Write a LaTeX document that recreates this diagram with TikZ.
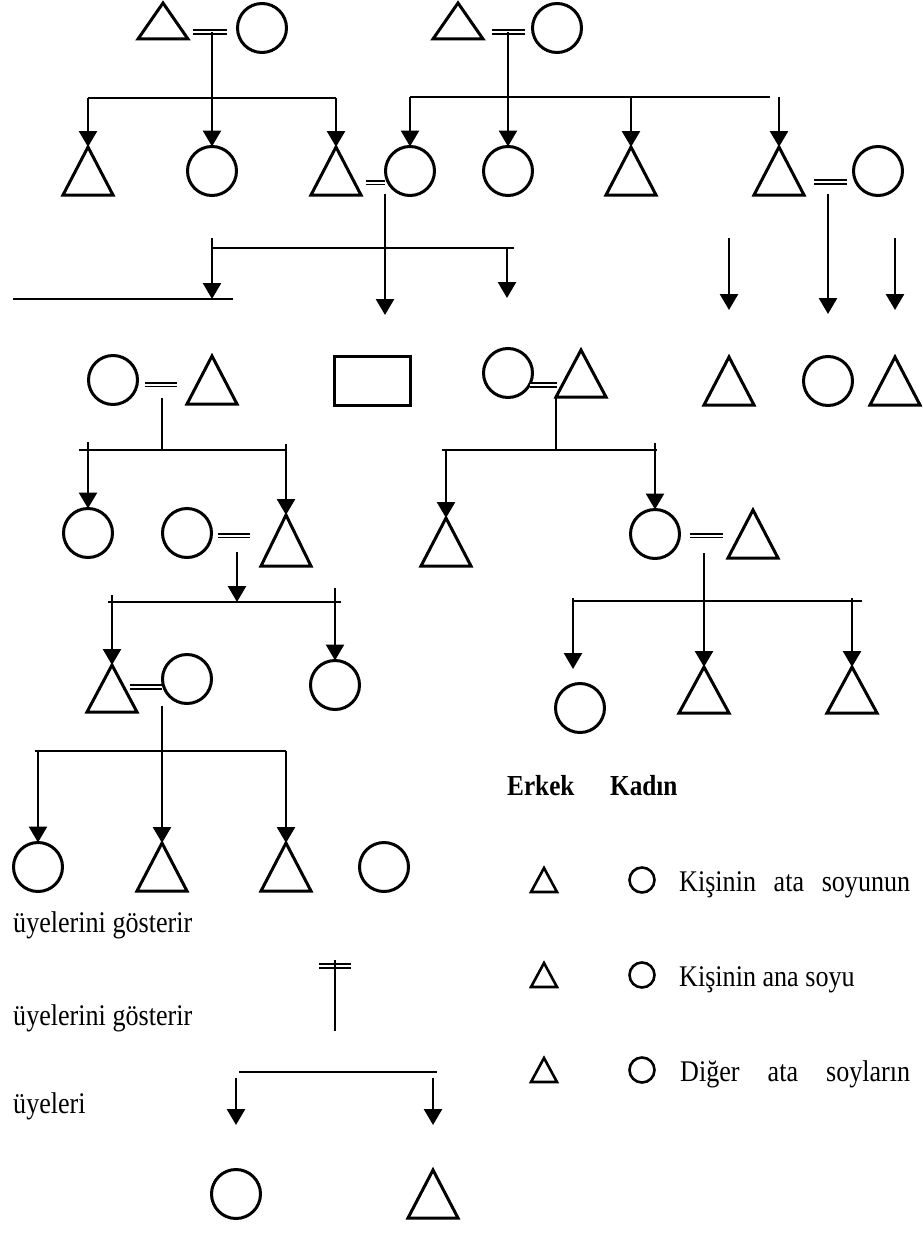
\documentclass[tikz,border=0pt]{standalone}
\usepackage{fontspec}
\setmainfont[FakeStretch=0.87]{Liberation Serif}
\usetikzlibrary{shapes.geometric,arrows.meta}
\tikzset{ % common looks for the kinship chart
	male/.style={draw, isosceles triangle, shape border rotate=90, isosceles triangle stretches,
		minimum width=50pt, minimum height=48pt, inner sep=0pt, outer sep=0pt, line width=3pt, anchor=apex},
	female/.style={draw, circle, minimum size=49pt, inner sep=0pt, outer sep=0pt, line width=3pt},
	smallmale/.style={male, minimum width=26pt, minimum height=24pt, line width=2.6pt},
	smallfemale/.style={female, minimum size=25pt, line width=2.6pt},
	desc/.style={line width=2.7pt, -{Triangle[length=16pt,width=18pt]}},
	bar/.style={line width=2.5pt},
	marriage/.style={double, double distance=2pt, line width=1.9pt},
	txt/.style={anchor=base west, inner sep=0pt, font=\fontsize{30}{36}\selectfont}
}

\begin{document}
\begin{tikzpicture}[x=1pt,y=-1pt]
			\useasboundingbox (0,0) rectangle (922,1239);
			% Generation 1
			\node[male, minimum height=36pt] (p1) at (163,3) {};
			\node[female] (p2) at (262,28) {};
			\node[male, minimum height=36pt] (p3) at (458,3) {};
			\node[female] (p4) at (557,28) {};
			\draw[marriage] (193,32) -- (227,32);
			\draw[marriage] (492,32) -- (525,32);
			\coordinate (u1) at (212,32);
			\coordinate (u2) at (508,32);
			% Generation 2
			\node[male] (c1) at (88,147) {};
			\node[female] (c2) at (212,171) {};
			\node[male] (c3) at (336,147) {};
			\node[female] (c4) at (410,171) {};
			\node[female] (c5) at (508,171) {};
			\node[male] (c6) at (631,147) {};
			\node[male] (c7) at (779,147) {};
			\node[female] (c8) at (878,171) {};
			\coordinate (b1) at (0,98);
			\draw[bar] (c1.apex |- b1) -- (c3.apex |- b1);
			\draw[desc] (u1) -- (c2.north);
			\foreach \k in {c1,c3} \draw[desc] (\k.apex |- b1) -- (\k.apex);
			\coordinate (b2) at (0,97);
			\draw[bar] (c4.north |- b2) -- (770,97);
			\draw[desc] (u2) -- (c5.north);
			\draw[desc] (c4.north |- b2) -- (c4.north);
			\foreach \k in {c6,c7} \draw[desc] (\k.apex |- b2) -- (\k.apex);
			\draw[marriage] (366,182.5) -- (385,182.5);
			\draw[marriage] (814,182) -- (847,182);
			% Arrows to generation 3
			\draw[bar] (212,248) -- (514,248);
			\draw[bar] (13,299) -- (233,299);
			\draw[desc] (212,238) -- (212,299);
			\draw[desc] (385,194) -- (385,315);
			\draw[desc] (507,248) -- (507,298);
			\draw[desc] (729,238) -- (729,310);
			\draw[desc] (828,194) -- (828,314);
			\draw[desc] (895,238) -- (895,310);
			% Generation 3
			\node[female] (d1) at (113,380) {};
			\node[male] (d2) at (212,356) {};
			\node[draw, rectangle, minimum width=76pt, minimum height=49pt, line width=3pt] (d3) at (372,380.5) {};
			\node[female] (d4) at (508,373) {};
			\node[male, minimum height=47pt] (d5) at (581,350) {};
			\node[male] (d6) at (729,357) {};
			\node[female] (d7) at (828,381) {};
			\node[male] (d8) at (895,357) {};
			\draw[marriage] (145,384.5) -- (177,384.5);
			\draw[marriage] (530,385) -- (557,385);
			% Generation 4
			\node[female] (e1) at (88,533) {};
			\node[female] (e2) at (187,533) {};
			\node[male, minimum height=51pt] (e3) at (286,515) {};
			\node[male] (e4) at (446,518) {};
			\node[female] (e5) at (655,534) {};
			\node[male] (e6) at (753,510) {};
			\draw[marriage] (218,535.5) -- (250,535.5);
			\draw[marriage] (690,535.5) -- (723,535.5);
			\coordinate (b4) at (0,450);
			\draw[bar] (162,398) -- (162,450);
			\draw[bar] (556,398) -- (556,450);
			\draw[bar] (79,450) -- (285,450);
			\draw[bar] (442,450) -- (657,450);
			\draw[desc] (e1.north |- 0,442) -- (e1.north);
			\draw[desc] (e3.apex |- 0,444) -- (e3.apex);
			\draw[desc] (e4.apex |- b4) -- (e4.apex);
			\draw[desc] (e5.north |- 0,443) -- (e5.north);
			% Generation 5
			\node[male, minimum height=47pt] (f1) at (112,665) {};
			\node[female] (f2) at (187,679) {};
			\node[female] (f3) at (335,685) {};
			\node[female] (g1) at (580,708) {};
			\node[male, minimum height=46pt] (g2) at (704,667) {};
			\node[male, minimum height=46pt] (g3) at (852,667) {};
			\draw[marriage] (130,687) -- (162,687);
			\draw[desc] (237,552) -- (237,602);
			\draw[bar] (108,602) -- (341,602);
			\draw[desc] (f1.apex |- 0,595) -- (f1.apex);
			\draw[desc] (f3.north |- 0,588) -- (f3.north);
			\draw[bar] (573,601) -- (862,601);
			\draw[desc] (704,553) -- (g2.apex);
			\draw[desc] (573,598) -- (573,669);
			\draw[desc] (g3.apex |- 0,598) -- (g3.apex);
			% Generation 6
			\node[female] (h1) at (38,867) {};
			\node[male] (h2) at (162,843) {};
			\node[male] (h3) at (286,843) {};
			\node[female] (h4) at (384,867) {};
			\coordinate (b6) at (0,751);
			\draw[bar] (35,751) -- (286,751);
			\draw[desc] (162,706) -- (h2.apex);
			\draw[desc] (h1.north |- b6) -- (h1.north);
			\draw[desc] (h3.apex |- b6) -- (h3.apex);
			% Key
			\node[txt, font=\fontsize{29}{34}\selectfont\bfseries] (erkek) at (507,795) {Erkek};
			\node[txt, font=\fontsize{29}{34}\selectfont\bfseries] (kadin) at (610,795) {Kadın};
			\foreach \y/\n in {868/1,963/2,1058/3} {
				\node[smallmale] (km\n) at (544,\y) {};
				\node[smallfemale] (kf\n) at (642,\y+12) {};
			}
			\node[txt] (k1) at (679,891) {\makebox[231pt][s]{Kişinin ata soyunun}};
			\node[txt] (k2) at (679,986) {Kişinin ana soyu};
			\node[txt] (k3) at (680,1081) {\makebox[230pt][s]{Diğer ata soyların}};
			\node[txt] (t1) at (13,932) {üyelerini gösterir};
			\node[txt] (t2) at (13,1025) {üyelerini gösterir};
			\node[txt] (t3) at (13,1113) {üyeleri};
			% Marriage sign and descent
			\draw[marriage] (319,966) -- (351,966);
			\draw[bar] (335,960) -- (335,1031);
			\draw[bar] (239,1072) -- (437,1072);
			\node[female] (q1) at (236,1194) {};
			\node[male] (q2) at (433,1170) {};
			\draw[desc] (q1.north |- 0,1078) -- (236,1125);
			\draw[desc] (q2.apex |- 0,1078) -- (433,1125);
		\end{tikzpicture}
\end{document}
